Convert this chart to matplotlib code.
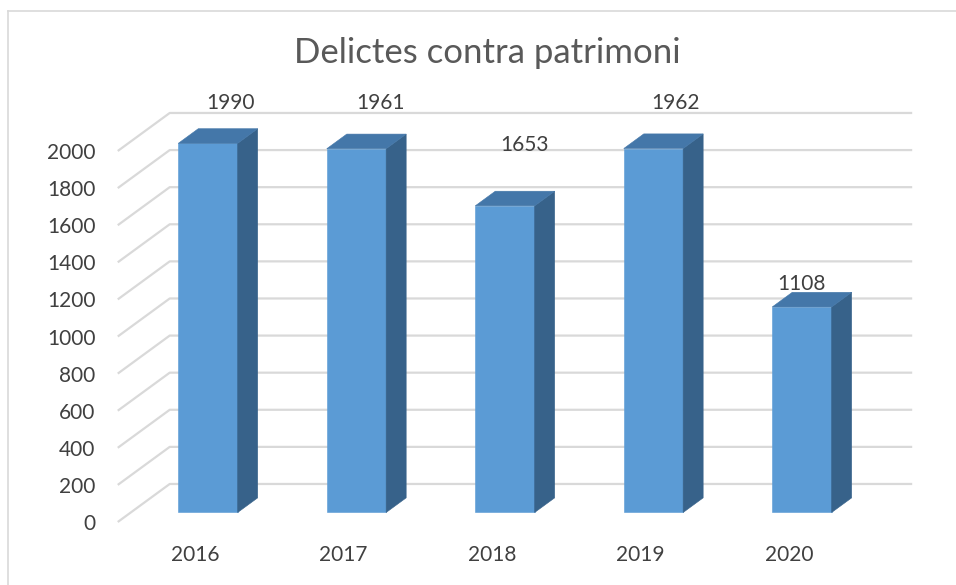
import numpy as np
import matplotlib
matplotlib.use('Agg')
import matplotlib.pyplot as plt
from matplotlib.lines import Line2D

plt.rcParams['font.family'] = ['Lato', 'DejaVu Sans']

years = ['2016', '2017', '2018', '2019', '2020']
delictes = [1990, 1961, 1653, 1962, 1108]
y_ticks = list(range(0, 2001, 200))

# where each value label sits (value units) and its sideways nudge (category units)
label_height = [2218, 2218, 1992, 2218, 1243]
label_dx = [0.15, 0.16, 0.13, 0.15, 0.0]

# oblique depth projection: z=0 front of floor, z=1 back wall
DX, DY = 0.35, 205.0
X_LEFT, X_RIGHT = -0.52, 4.48
Z_FRONT, Z_BACK = 0.25, 0.635
HALF_W = 0.2

FRONT = '#5B9BD5'
SIDE = '#37628A'
TOP = '#4477A9'
GRID = '#D9D9D9'
TEXT = '#404040'


def proj(x, v, z):
    return x + z * DX, v + z * DY


fig = plt.figure(figsize=(9.56, 5.85), dpi=100)
ax = fig.add_axes([0, 0, 1, 1])
ax.set_xlim(-1.313, 5.125)
ax.set_ylim(-339.6, 2814)
ax.axis('off')

# chart frame, only its left and top edges fall inside the image
bx, by = 8 / 956, 1 - 10.5 / 585
fig.add_artist(Line2D([bx, bx], [0, by], transform=fig.transFigure,
                      color=GRID, lw=1.2))
fig.add_artist(Line2D([bx, 1], [by, by], transform=fig.transFigure,
                      color=GRID, lw=1.2))

# gridlines on the side wall and back wall
for t in y_ticks:
    x0, y0 = proj(X_LEFT, t, 0)
    x1, y1 = proj(X_LEFT, t, 1)
    x2, y2 = proj(X_RIGHT, t, 1)
    ax.plot([x0, x1, x2], [y0, y1, y2], color=GRID, lw=1.6,
            solid_capstyle='butt', zorder=1)
    ax.text(x0 - 0.15, y0, str(t), ha='right', va='center_baseline',
            fontsize=15, color=TEXT)


def face(pts, color):
    xy = [proj(*p) for p in pts]
    ax.fill([p[0] for p in xy], [p[1] for p in xy], color=color,
            lw=0.4, edgecolor=color, zorder=3)


for i, v in enumerate(delictes):
    x0, x1 = i - HALF_W, i + HALF_W
    face([(x0, 0, Z_FRONT), (x1, 0, Z_FRONT), (x1, v, Z_FRONT), (x0, v, Z_FRONT)], FRONT)
    face([(x1, 0, Z_FRONT), (x1, 0, Z_BACK), (x1, v, Z_BACK), (x1, v, Z_FRONT)], SIDE)
    face([(x0, v, Z_FRONT), (x1, v, Z_FRONT), (x1, v, Z_BACK), (x0, v, Z_BACK)], TOP)

    lx, ly = proj(i + label_dx[i], label_height[i], Z_FRONT)
    ax.text(lx, ly, str(v), ha='center', va='center_baseline', fontsize=15,
            color=TEXT, zorder=4)

    tx, ty = proj(i, -167, 0)
    ax.text(tx, ty, years[i], ha='center', va='center_baseline', fontsize=15,
            color=TEXT)

fig.text(487 / 956, 1 - 63 / 585, 'Delictes contra patrimoni', ha='center',
         va='baseline', fontsize=25, color='#595959')

fig.savefig('out.png', dpi=100)
